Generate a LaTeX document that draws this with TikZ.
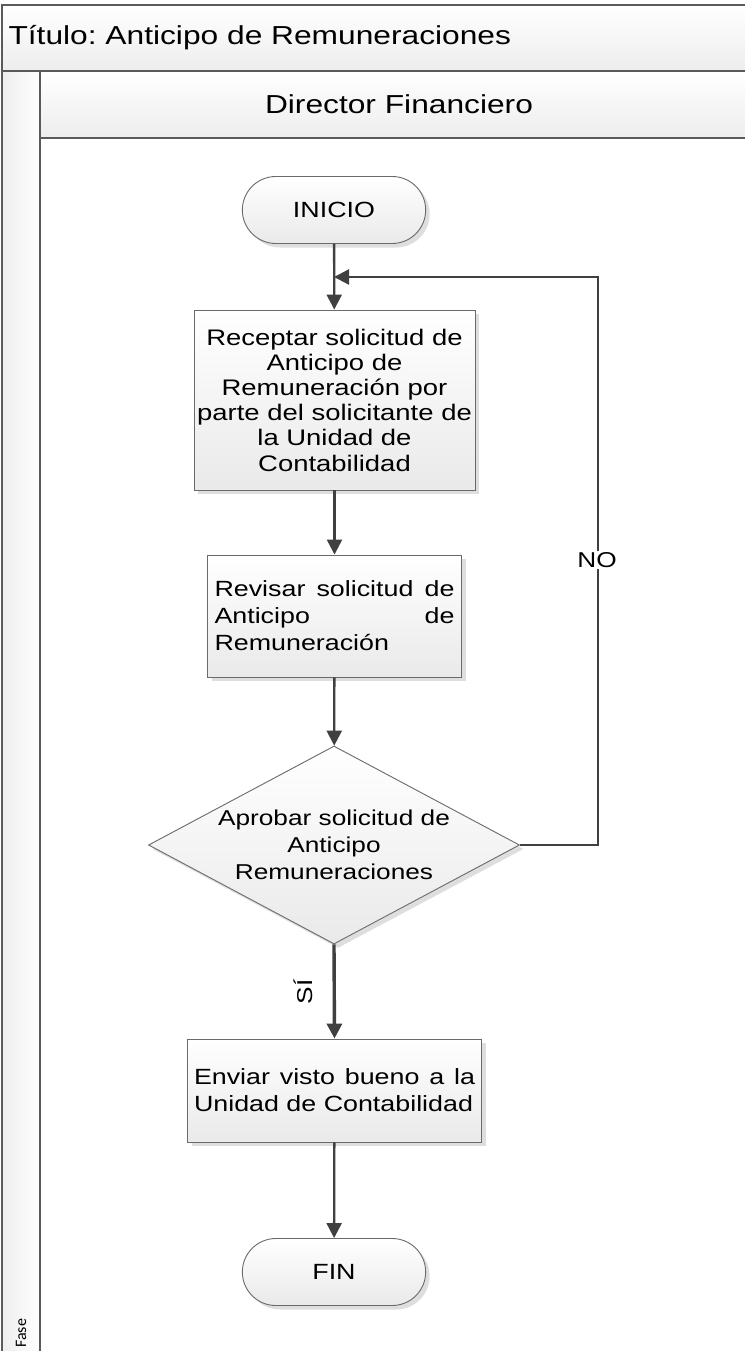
\documentclass[tikz,border=0pt]{standalone}
\usepackage{fontspec}
\setmainfont{Liberation Sans}[FakeStretch=1.22]
\newfontfamily\fasefont{Carlito}
\usetikzlibrary{arrows.meta,shapes.geometric,shapes.misc,shadows}
\frenchspacing

\definecolor{framegray}{HTML}{5A5A5A}
\definecolor{linkgray}{HTML}{404040}
\definecolor{boxline}{HTML}{6A6A6A}

\tikzset{
  frameline/.style={draw=framegray, line width=1.3pt},
  boxshade/.style={top color=white, bottom color=gray!17},
  boxshadow/.style={drop shadow={shadow xshift=4pt, shadow yshift=-4pt, fill=black, opacity=0.13}},
  bodytext/.style={font=\fontsize{22}{27}\selectfont, text=black},
  stepbox/.style={rectangle, draw=boxline, line width=0.9pt, boxshade, boxshadow,
    bodytext, inner sep=0pt, align=center},
  terminal/.style={rounded rectangle, draw=boxline, line width=0.9pt, boxshade, boxshadow,
    bodytext, minimum width=190pt, minimum height=67pt},
  decision/.style={diamond, draw=boxline, line width=0.9pt, boxshade, boxshadow,
    inner sep=0pt, minimum width=371pt, minimum height=198pt},
  conn/.style={draw=linkgray, line width=2.3pt,
    -{Triangle[length=15pt, width=15pt]}},
  lbl/.style={font=\fontsize{21.5}{26}\selectfont, text=black},
}

\begin{document}
\begin{tikzpicture}[x=1pt, y=-1pt]
  \useasboundingbox (0,0) rectangle (744,1351);
  \fill[white] (0,0) rectangle (744,1351);

  % swimlane frame: title band, lane header and phase column
  \path[top color=white, bottom color=gray!14] (2,5) rectangle (746,71);
  \path[top color=white, bottom color=gray!14] (40,71) rectangle (746,138);
  \path[left color=gray!14, right color=white] (2,71) rectangle (40,1353);
  \draw[frameline] (746,5) -- (2,5) -- (2,1353);
  \draw[frameline] (2,71) -- (746,71);
  \draw[frameline] (40,71) -- (40,1353);
  \draw[frameline] (40,138) -- (746,138);

  \node[anchor=west, font=\fontsize{26}{30}\selectfont] (title) at (5,38)
    {Título: Anticipo de Remuneraciones};
  \node[font=\fontsize{26}{30}\selectfont] (lane) at (399,104) {Director Financiero};
  \node[rotate=90, anchor=west, font=\fasefont\fontsize{16}{18}\selectfont, inner sep=0pt]
    (phase) at (21,1348) {Fase};

  % flow steps
  \node[terminal] (inicio) at (334,210) {INICIO};
  \node[stepbox, minimum width=281pt, minimum height=180pt,
        font=\fontsize{22.5}{25.2}\selectfont] (receptar) at (334.5,400)
    {Receptar solicitud de\\Anticipo de\\Remuneración por\\parte del solicitante de\\la Unidad de\\Contabilidad};
  \node[stepbox, minimum width=254pt, minimum height=122pt, align=left] (revisar) at (334.5,616)
    {\makebox[240pt][s]{Revisar solicitud de}\\\makebox[240pt][s]{Anticipo de}\\Remuneración};
  \node[decision] (aprobar) at (334,845) {};
  \node[align=center, font=\fontsize{21.5}{27}\selectfont] (aprobartxt) at (334,845)
    {Aprobar solicitud de\\Anticipo\\Remuneraciones};
  \node[stepbox, minimum width=294pt, minimum height=103pt, align=left] (enviar) at (334.5,1090.5)
    {\makebox[281pt][s]{Enviar visto bueno a la}\\Unidad de Contabilidad};
  \node[terminal] (fin) at (334,1272) {FIN};

  % connectors
  \coordinate (loopin) at (334,277);
  \draw[conn] (inicio) -- (receptar);
  \draw[conn] (receptar) -- (revisar);
  \draw[conn] (revisar) -- (aprobar);
  \draw[conn] (aprobar.east) -- ++(78,0) |- (loopin);
  \node[lbl, fill=white, inner sep=1pt] (no) at (597,560) {NO};
  \draw[conn, line width=3.4pt] (aprobar.south) -- (enviar.north);
  \node[lbl, rotate=90] (si) at (303,992) {SÍ};
  \draw[conn] (enviar) -- (fin);
\end{tikzpicture}
\end{document}
